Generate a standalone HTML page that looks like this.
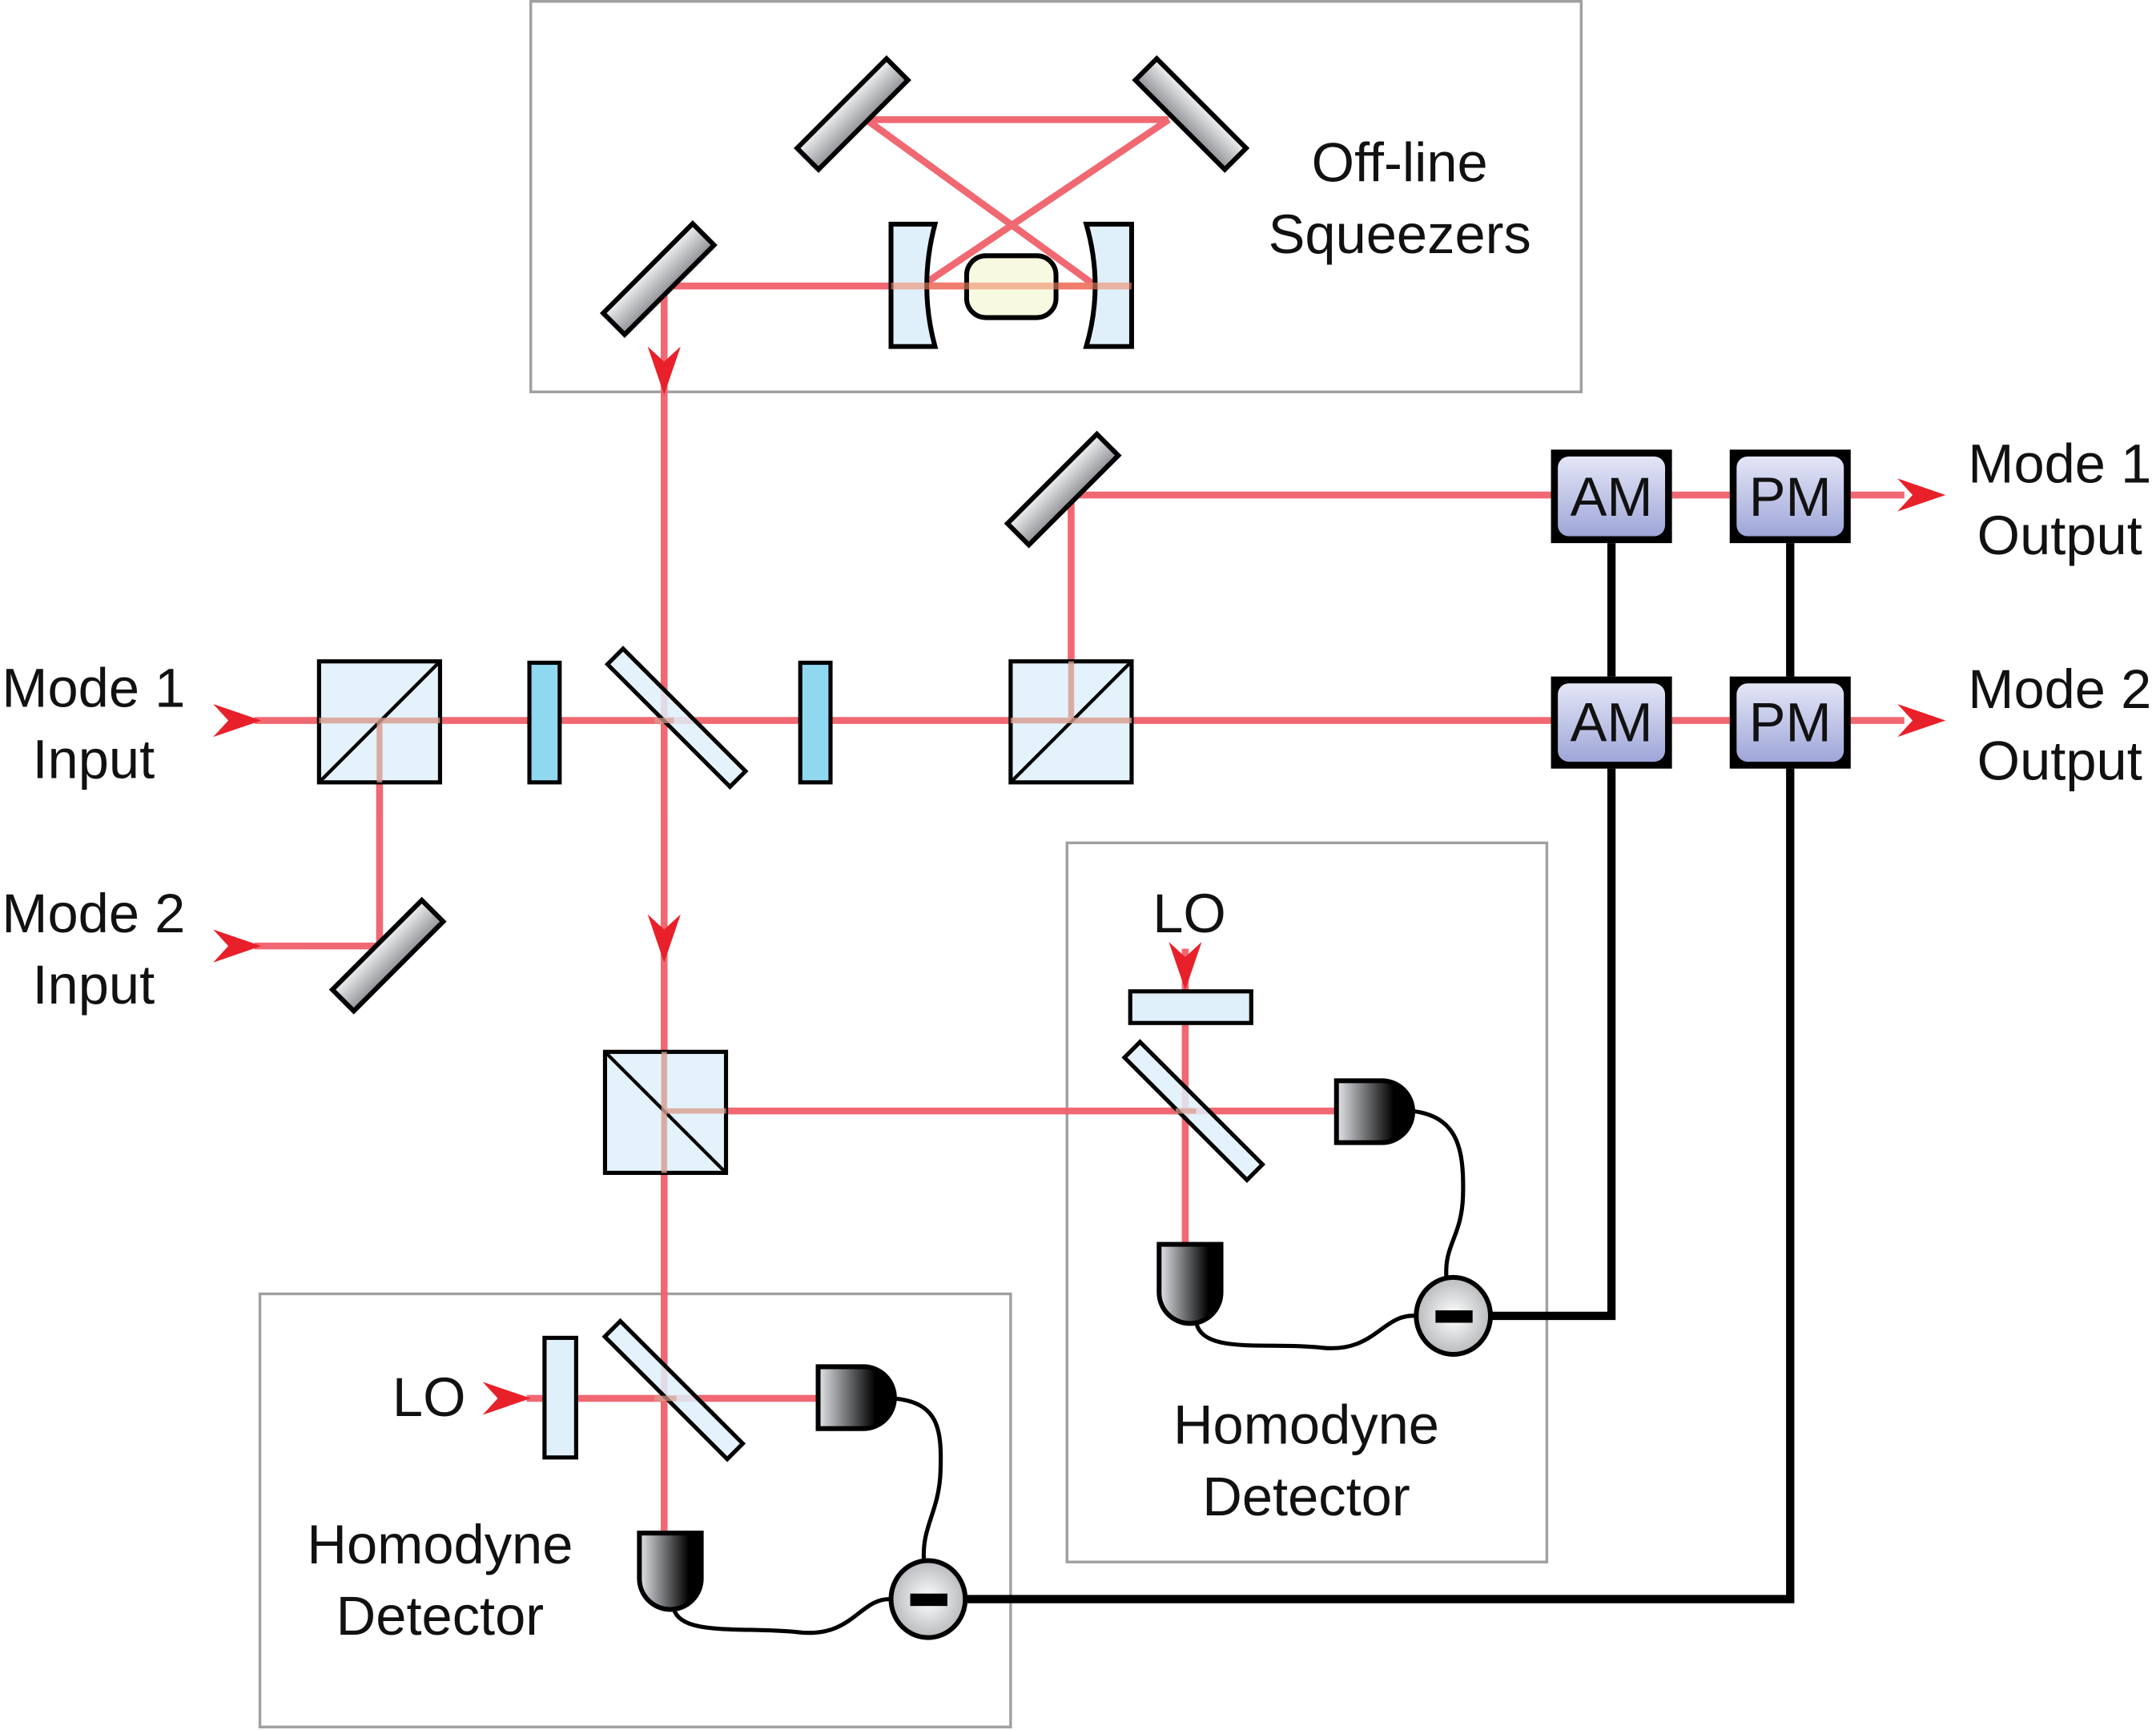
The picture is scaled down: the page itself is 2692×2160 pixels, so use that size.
<!DOCTYPE html>
<html><head><meta charset="utf-8"><style>
html,body{margin:0;padding:0;background:#fff;}
svg{display:block;}
text{font-family:"Liberation Sans",sans-serif;font-size:40px;fill:#111;}
</style></head><body>
<svg width="2692" height="2160" viewBox="0 0 1568 1258.2" xmlns="http://www.w3.org/2000/svg">
<defs>
<linearGradient id="mg" x1="0" y1="0" x2="0" y2="1"><stop offset="0" stop-color="#f0f1f2"/><stop offset="1" stop-color="#909296"/></linearGradient>
<linearGradient id="dg" x1="0" y1="0" x2="1" y2="0"><stop offset="0" stop-color="#e4e6ea"/><stop offset="0.75" stop-color="#000"/></linearGradient>
<linearGradient id="dgv" x1="0" y1="0" x2="1" y2="0"><stop offset="0" stop-color="#e4e6ea"/><stop offset="0.8" stop-color="#000"/></linearGradient>
<radialGradient id="sg"><stop offset="0" stop-color="#fff"/><stop offset="1" stop-color="#b8babd"/></radialGradient>
<linearGradient id="bg" x1="0" y1="0" x2="0" y2="1"><stop offset="0" stop-color="#e4e6f6"/><stop offset="1" stop-color="#9ea6d8"/></linearGradient>
</defs>

<g fill="none" stroke="#a0a0a0" stroke-width="2">
<rect x="386" y="1" width="764" height="284"/>
<rect x="776" y="613" width="349" height="523"/>
<rect x="189" y="941" width="546" height="315"/>
</g>

<g stroke="#000" stroke-width="6" fill="none">
<polyline points="1172,395 1172,492"/>
<polyline points="1302,395 1302,492"/>
<polyline points="1172,559 1172,957 1085,957"/>
<polyline points="1302,559 1302,1163 700,1163"/>
</g>

<g stroke="#f0606a" stroke-width="5" fill="none" opacity="0.95">
<line x1="630" y1="87" x2="850" y2="87"/>
<line x1="630" y1="87" x2="797" y2="208"/>
<line x1="850" y1="87" x2="670" y2="208"/>
<line x1="483" y1="208" x2="797" y2="208"/>
<line x1="483" y1="208" x2="483" y2="1115"/>
<line x1="185" y1="524" x2="1130" y2="524"/>
<line x1="1216" y1="524" x2="1258" y2="524"/>
<line x1="1346" y1="524" x2="1385" y2="524"/>
<line x1="276" y1="524" x2="276" y2="688"/>
<line x1="185" y1="688" x2="282" y2="688"/>
<line x1="779" y1="524" x2="779" y2="360"/>
<line x1="779" y1="360" x2="1130" y2="360"/>
<line x1="1216" y1="360" x2="1258" y2="360"/>
<line x1="1346" y1="360" x2="1385" y2="360"/>
<line x1="528" y1="808" x2="972" y2="808"/>
<line x1="862" y1="690" x2="862" y2="905"/>
<line x1="383" y1="1017" x2="595" y2="1017"/>
</g>

<g fill="#e8202a">
<polygon points="190,524 155,512 166,524 155,536"/>
<polygon points="190,688 155,676 166,688 155,700"/>
<polygon points="1415,360 1380,348 1391,360 1380,372"/>
<polygon points="1415,524 1380,512 1391,524 1380,536"/>
<polygon points="386,1017 351,1005 362,1017 351,1029"/>
<polygon points="483,287 471,252 483,263 495,252"/>
<polygon points="483,700 471,665 483,676 495,665"/>
<polygon points="862,720 850,685 862,696 874,685"/>
</g>

<g stroke="#000" stroke-width="3.5" fill="url(#mg)">
<rect x="-46" y="-11" width="92" height="22" transform="translate(620,83) rotate(-45)"/>
<rect x="-46" y="-11" width="92" height="22" transform="translate(866,83) rotate(45)"/>
<rect x="-46" y="-11" width="92" height="22" transform="translate(479,203) rotate(-45)"/>
<rect x="-46" y="-11" width="92" height="22" transform="translate(773,356) rotate(-45)"/>
<rect x="-46" y="-11" width="92" height="22" transform="translate(282,695) rotate(-45)"/>
</g>

<g stroke="#000" stroke-width="3.5" fill="#dff0fa">
<path d="M648,163 L680,163 Q668,208 680,252 L648,252 Z"/>
<path d="M823,163 L790,163 Q803,208 790,252 L823,252 Z"/>
</g>
<rect x="703" y="186" width="65" height="45" rx="14" fill="#f7f9e0" stroke="#000" stroke-width="3.5"/>
<line x1="648" y1="208" x2="823" y2="208" stroke="#f08a6a" stroke-width="5" opacity="0.6"/>

<g stroke="#000" stroke-width="3" fill="#dff0fa" fill-opacity="0.85">
<rect x="232" y="481" width="88" height="88"/>
<rect x="735" y="481" width="88" height="88"/>
<rect x="440" y="765" width="88" height="88"/>
</g>
<g stroke="#000" stroke-width="2.5">
<line x1="232" y1="569" x2="320" y2="481"/>
<line x1="735" y1="569" x2="823" y2="481"/>
<line x1="440" y1="765" x2="528" y2="853"/>
</g>
<g stroke="#d8a090" stroke-width="4" opacity="0.8">
<line x1="232" y1="524" x2="320" y2="524"/><line x1="276" y1="524" x2="276" y2="569"/>
<line x1="735" y1="524" x2="823" y2="524"/><line x1="779" y1="481" x2="779" y2="524"/>
<line x1="483" y1="765" x2="483" y2="853"/><line x1="483" y1="808" x2="528" y2="808"/>
</g>

<g stroke="#000" stroke-width="3">
<rect x="385" y="482" width="22" height="87" fill="#8fd8f0"/>
<rect x="582" y="482" width="22" height="87" fill="#8fd8f0"/>
<rect x="822" y="721" width="88" height="23" fill="#dff0fa"/>
<rect x="396" y="973" width="23" height="87" fill="#dff0fa"/>
</g>

<g stroke="#000" stroke-width="3" fill="#dff0fa" fill-opacity="0.85">
<rect x="-63" y="-8" width="126" height="16" transform="translate(492,522) rotate(45)"/>
<rect x="-63" y="-8" width="126" height="16" transform="translate(868,808) rotate(45)"/>
<rect x="-63" y="-8" width="126" height="16" transform="translate(490,1011) rotate(45)"/>
</g>
<g stroke="#d8a090" stroke-width="4" opacity="0.7">
<line x1="476" y1="524" x2="490" y2="524"/>
<line x1="855" y1="808" x2="870" y2="808"/>
<line x1="476" y1="1017" x2="492" y2="1017"/>
</g>

<g stroke="#000" stroke-width="3.5">
<path d="M972,786 L1005,786 A22.5,22.5 0 0 1 1005,831 L972,831 Z" fill="url(#dg)"/>
<path d="M843,905 L888,905 L888,940 A22.5,22.5 0 0 1 843,940 Z" fill="url(#dgv)"/>
<path d="M595,994 L628,994 A22.5,22.5 0 0 1 628,1039 L595,1039 Z" fill="url(#dg)"/>
<path d="M465,1115 L510,1115 L510,1148 A22.5,22.5 0 0 1 465,1148 Z" fill="url(#dgv)"/>
</g>

<g stroke="#000" stroke-width="3" fill="none">
<path d="M1027,808 C1060,812 1065,835 1064,870 C1063,900 1050,905 1052,930"/>
<path d="M870,962 C875,985 920,976 960,980 C1000,985 1005,955 1030,957"/>
<path d="M650,1017 C683,1020 685,1040 684,1070 C683,1100 670,1110 672,1136"/>
<path d="M490,1170 C495,1190 540,1183 580,1187 C620,1192 625,1162 648,1163"/>
</g>

<g stroke="#000" stroke-width="3.5" fill="url(#sg)">
<ellipse cx="1057" cy="957" rx="27" ry="28"/>
<ellipse cx="675" cy="1163" rx="27" ry="28"/>
</g>
<rect x="1044" y="953" width="27" height="9" fill="#000"/>
<rect x="662" y="1159" width="27" height="9" fill="#000"/>

<g>
<rect x="1128" y="327" width="88" height="68" fill="#000"/>
<rect x="1133" y="332" width="78" height="58" rx="8" fill="url(#bg)"/>
<rect x="1128" y="492" width="88" height="67" fill="#000"/>
<rect x="1133" y="497" width="78" height="57" rx="8" fill="url(#bg)"/>
<rect x="1258" y="327" width="88" height="68" fill="#000"/>
<rect x="1263" y="332" width="78" height="58" rx="8" fill="url(#bg)"/>
<rect x="1258" y="492" width="88" height="67" fill="#000"/>
<rect x="1263" y="497" width="78" height="57" rx="8" fill="url(#bg)"/>
</g>
<g text-anchor="middle">
<text x="1172" y="375">AM</text>
<text x="1302" y="375">PM</text>
<text x="1172" y="539">AM</text>
<text x="1302" y="539">PM</text>

<text x="1498" y="351">Mode 1</text>
<text x="1498" y="403">Output</text>
<text x="1498" y="515">Mode 2</text>
<text x="1498" y="567">Output</text>
<text x="68" y="514">Mode 1</text>
<text x="68" y="566">Input</text>
<text x="68" y="678">Mode 2</text>
<text x="68" y="730">Input</text>
<text x="1018" y="132">Off-line</text>
<text x="1018" y="184">Squeezers</text>
<text x="865" y="678">LO</text>
<text x="312" y="1030">LO</text>
<text x="950" y="1050">Homodyne</text>
<text x="950" y="1102">Detector</text>
<text x="320" y="1137">Homodyne</text>
<text x="320" y="1189">Detector</text>
</g>
</svg>
</body></html>
